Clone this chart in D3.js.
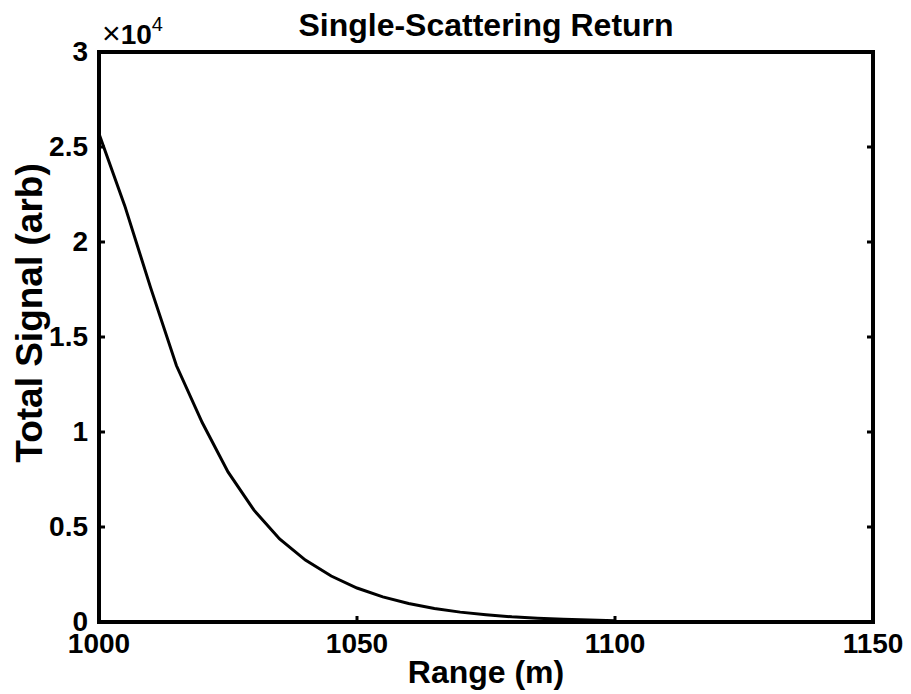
<!DOCTYPE html>
<html>
  <head>
    <meta charset="utf-8">
    <title>Single-Scattering Return</title>
    <script src="https://d3js.org/d3.v7.min.js"></script>
    <style>
      body { margin: 0; background: #fff; }
      text { font-family: "Liberation Sans", Arial, Helvetica, sans-serif; font-weight: bold; fill: #000; }
      .line { fill: none; stroke: #000; stroke-width: 3; }
    </style>
  </head>
  <body>
    <svg width="911" height="694"></svg>
    <script>
      // range in metres, signal in arbitrary units
      var range = [1000, 1005, 1010, 1015, 1020, 1025, 1030, 1035, 1040, 1045, 1050,
                   1055, 1060, 1065, 1070, 1075, 1080, 1085, 1090, 1095, 1100];
      var signal = [25700, 21900, 17600, 13500, 10500, 7900, 5900, 4370, 3260, 2420, 1790,
                    1320, 970, 710, 520, 380, 270, 200, 140, 100, 70];
      var xTicks = [1000, 1050, 1100, 1150];
      var yTicks = [0, 5000, 10000, 15000, 20000, 25000, 30000];

      var margin = {top: 52, right: 38, bottom: 72, left: 99},
          width = 911 - margin.left - margin.right,
          height = 694 - margin.top - margin.bottom;

      var svg = d3.select("svg")
        .append("g")
          .attr("transform", "translate(" + margin.left + "," + margin.top + ")");

      var x = d3.scaleLinear().domain([1000, 1150]).range([0, width]);
      var y = d3.scaleLinear().domain([0, 30000]).range([height, 0]);

      var data = range.map(function(r, i) { return {r: r, s: signal[i]}; });

      svg.append("path")
          .datum(data)
          .attr("class", "line")
          .attr("d", d3.line()
            .x(function(d) { return x(d.r); })
            .y(function(d) { return y(d.s); }));

      // inward ticks, MATLAB style
      var tickLen = 6;
      svg.selectAll(".ytickL").data(yTicks).enter().append("line")
          .attr("x1", 0).attr("x2", tickLen)
          .attr("y1", function(d) { return y(d); }).attr("y2", function(d) { return y(d); })
          .attr("stroke", "#000").attr("stroke-width", 3);
      svg.selectAll(".ytickR").data(yTicks).enter().append("line")
          .attr("x1", width - tickLen).attr("x2", width)
          .attr("y1", function(d) { return y(d); }).attr("y2", function(d) { return y(d); })
          .attr("stroke", "#000").attr("stroke-width", 3);
      svg.selectAll(".xtick").data(xTicks).enter().append("line")
          .attr("x1", function(d) { return x(d); }).attr("x2", function(d) { return x(d); })
          .attr("y1", height - tickLen).attr("y2", height)
          .attr("stroke", "#000").attr("stroke-width", 3);

      svg.append("rect")
          .attr("width", width).attr("height", height)
          .attr("fill", "none").attr("stroke", "#000").attr("stroke-width", 4);

      svg.selectAll(".ylab").data(yTicks).enter().append("text")
          .attr("x", -11)
          .attr("y", function(d) { return y(d); })
          .attr("dy", "0.33em")
          .attr("text-anchor", "end")
          .style("font-size", "28px")
          .text(function(d) { return d3.format("")(d / 10000); });

      svg.selectAll(".xlab").data(xTicks).enter().append("text")
          .attr("x", function(d) { return x(d); })
          .attr("y", height + 31)
          .attr("text-anchor", "middle")
          .style("font-size", "28px")
          .text(function(d) { return d; });

      var mult = svg.append("text")
          .attr("x", 3).attr("y", -8)
          .style("font-size", "28px");
      mult.append("tspan").style("font-weight", "normal").style("font-size", "32px").text("\u00d7");
      mult.append("tspan").text("10");
      mult.append("tspan").attr("dy", -13).style("font-size", "20px").style("font-weight", "normal").text("4");

      svg.append("text")
          .attr("x", width / 2).attr("y", -16)
          .attr("text-anchor", "middle")
          .style("font-size", "32px")
          .text("Single-Scattering Return");

      svg.append("text")
          .attr("x", width / 2).attr("y", height + 61)
          .attr("text-anchor", "middle")
          .style("font-size", "32px")
          .text("Range (m)");

      svg.append("text")
          .attr("transform", "translate(-57," + (height / 2 - 24) + ") rotate(-90)")
          .attr("text-anchor", "middle")
          .style("font-size", "37px")
          .text("Total Signal (arb)");
    </script>
  </body>
</html>
